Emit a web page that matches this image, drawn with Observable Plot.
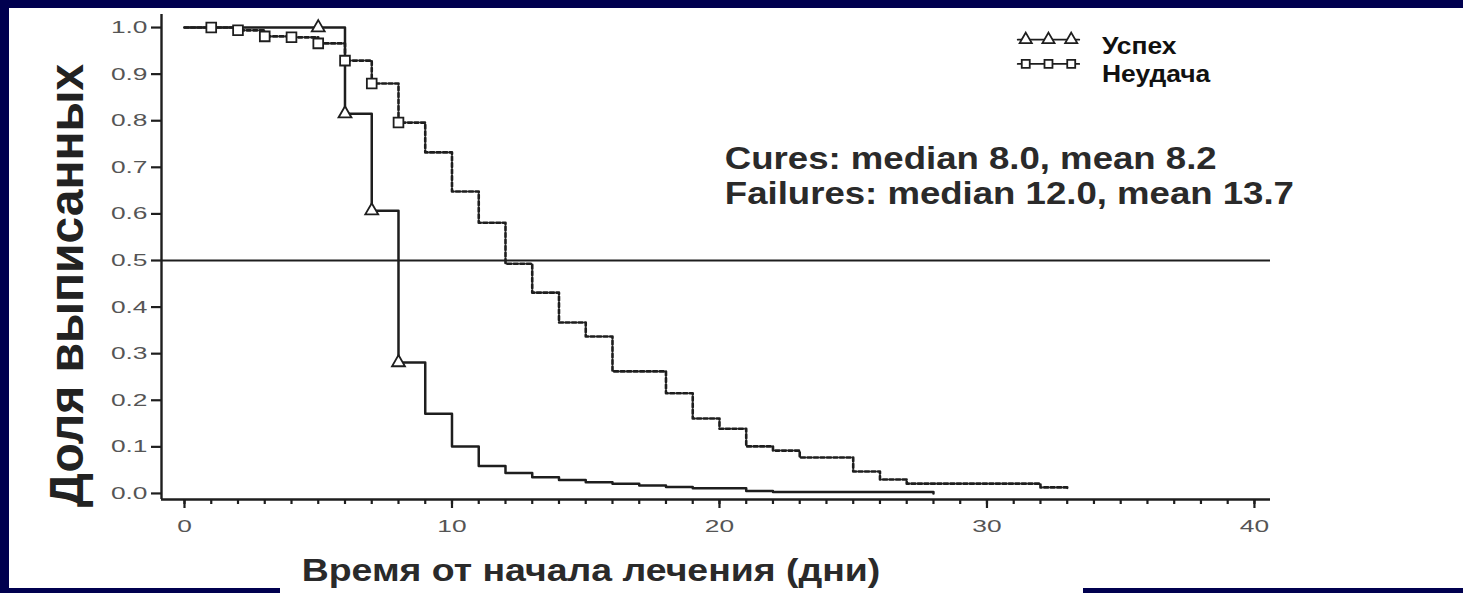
<!DOCTYPE html>
<html>
<head>
<meta charset="utf-8">
<script src="https://cdn.jsdelivr.net/npm/d3@7"></script>
<script src="https://cdn.jsdelivr.net/npm/@observablehq/plot@0.6"></script>
<style>
  html, body { margin: 0; padding: 0; }
  body { width: 1463px; height: 593px; background: #00004f; position: relative; overflow: hidden; font-family: "Liberation Sans", Arial, sans-serif; }
  #panel { position: absolute; left: 9px; top: 8px; width: 1454px; height: 580px; background: #fff; }
  #panel2 { position: absolute; left: 280px; top: 588px; width: 803px; height: 5px; background: #fff; }
  #chart { position: absolute; left: 0; top: 0; }
</style>
</head>
<body>
<div id="panel"></div>
<div id="panel2"></div>
<div id="chart"></div>
<script>
// ---- data ----
const successTimes = [0, 6, 7, 8, 9, 10, 11, 12, 13, 14, 15, 16, 17, 18, 19, 21, 22, 28];
const successSurv  = [1.0, 0.815, 0.607, 0.281, 0.171, 0.101, 0.059, 0.044, 0.035, 0.029, 0.024, 0.021, 0.017, 0.014, 0.011, 0.005, 0.003, 0.0];
const failTimes = [0, 1, 2, 3, 4, 5, 6, 7, 8, 9, 10, 11, 12, 13, 14, 15, 16, 18, 19, 20, 21, 22, 23, 25, 26, 27, 32, 33];
const failSurv  = [1.0, 1.0, 0.994, 0.981, 0.979, 0.966, 0.929, 0.880, 0.796, 0.732, 0.648, 0.581, 0.493, 0.431, 0.367, 0.337, 0.262, 0.215, 0.161, 0.139, 0.101, 0.092, 0.077, 0.047, 0.030, 0.021, 0.013, 0.008];
const successMarkTimes = [5, 6, 7, 8];
const failMarkTimes = [1, 2, 3, 4, 5, 6, 7, 8];
const referenceLevel = [0.5];
const xMajorTicks = [0, 10, 20, 30, 40];
const xMinorTicks = d3.range(0, 41);
const yTicks = [0, 0.1, 0.2, 0.3, 0.4, 0.5, 0.6, 0.7, 0.8, 0.9, 1.0];
const seriesNames = ["Успех", "Неудача"];
const annotationLines = ["Cures: median 8.0, mean 8.2", "Failures: median 12.0, mean 13.7"];
const annotationY = [0.717, 0.642];
const annotationX = 20.2;
const yTitle = "Доля выписанных";
const xTitle = "Время от начала лечения (дни)";

// ---- build tables ----
const success = successTimes.map((t, i) => ({t, s: successSurv[i]}));
const fail = failTimes.map((t, i) => ({t, s: failSurv[i]}));
const stepValue = (times, surv, t) => { let v = surv[0]; times.forEach((tt, i) => { if (tt <= t) v = surv[i]; }); return v; };
const successMarks = successMarkTimes.map(t => ({t, s: stepValue(successTimes, successSurv, t)}));
const failMarks = failMarkTimes.map(t => ({t, s: stepValue(failTimes, failSurv, t)}));
const annotations = annotationLines.map((text, i) => ({text, x: annotationX, y: annotationY[i]}));

// legend (positioned in data space, upper right)
const legendMarkX = [31.45, 32.3, 33.15];
const legendRows = [
  {name: seriesNames[0], symbol: "triangle", y: 0.974, ty: 0.958},
  {name: seriesNames[1], symbol: "square", y: 0.922, ty: 0.898}
];
const legendDots = legendRows.flatMap(r => legendMarkX.map(x => ({x, y: r.y, symbol: r.symbol})));
const legendLines = legendRows.flatMap(r => [{x: legendMarkX[0] - 0.3, y: r.y, name: r.name}, {x: legendMarkX[2] + 0.3, y: r.y, name: r.name}]);

const xDomain = [-0.86, 40.6];
const yDomain = [-0.013, 1.028];
const ink = "#1e1e1e";

const chart = Plot.plot({
  width: 1463,
  height: 593,
  marginLeft: 161,
  marginRight: 193,
  marginTop: 14,
  marginBottom: 94,
  x: {domain: xDomain},
  y: {domain: yDomain},
  style: {background: "transparent", fontFamily: "'Liberation Sans', Arial, sans-serif", overflow: "visible"},
  marks: [
    Plot.ruleY(referenceLevel, {stroke: ink, strokeWidth: 2.2}),
    Plot.line(fail, {x: "t", y: "s", curve: "step-after", stroke: ink, strokeWidth: 2.6, strokeDasharray: "4,2.5"}),
    Plot.line(success, {x: "t", y: "s", curve: "step-after", stroke: ink, strokeWidth: 2.5}),
    Plot.dot(failMarks, {x: "t", y: "s", symbol: "square", r: 5.5, fill: "white", stroke: ink, strokeWidth: 1.8}),
    Plot.dot(successMarks, {x: "t", y: "s", symbol: "triangle", r: 4.8, fill: "white", stroke: ink, strokeWidth: 1.8}),
    Plot.ruleX([xDomain[0]], {stroke: ink, strokeWidth: 2.4}),
    Plot.ruleY([yDomain[0]], {stroke: ink, strokeWidth: 2.4}),
    Plot.axisX({ticks: xMinorTicks, tickSize: 5, tickFormat: () => "", label: null, stroke: ink, strokeWidth: 2.2}),
    Plot.axisX({ticks: xMajorTicks, tickSize: 9, tickPadding: 11, label: null, stroke: ink, strokeWidth: 2.2, fontSize: 17, fill: "#555"}),
    Plot.axisY({ticks: yTicks, tickSize: 10, tickPadding: 4, tickFormat: d3.format(".1f"), label: null, stroke: ink, strokeWidth: 2.2, fontSize: 17, fill: "#555"}),
    Plot.text(annotations, {x: "x", y: "y", text: "text", textAnchor: "start", fontSize: 31, fontWeight: "bold", fill: "#2a2a2a"}),
    // legend
    Plot.line(legendLines, {x: "x", y: "y", z: "name", stroke: ink, strokeWidth: 1.8}),
    Plot.dot(legendDots, {x: "x", y: "y", symbol: "symbol", r: 4.5, fill: "white", stroke: ink, strokeWidth: 1.8}),
    Plot.text(legendRows, {x: 34.3, y: "ty", text: "name", textAnchor: "start", fontSize: 23, fontWeight: "bold", fill: "#111"}),
    // axis titles
    Plot.text([yTitle], {frameAnchor: "left", textAnchor: "middle", rotate: -90, dx: -94, dy: 28.5, fontSize: 48, fontWeight: "bold", fill: "#222"}),
    Plot.text([xTitle], {frameAnchor: "bottom", textAnchor: "middle", dx: -125, dy: 81, fontSize: 32, fontWeight: "bold", fill: "#2a2a2a"})
  ]
});
document.getElementById("chart").appendChild(chart);

// horizontal stretch of the text, as in the (stretched) original slide
function stretch(el, sx) {
  const x = +el.getAttribute("x") || 0, y = +el.getAttribute("y") || 0;
  let t = el.getAttribute("transform") || "";
  if (x || y) { el.removeAttribute("x"); el.removeAttribute("y"); t = `translate(${x},${y}) ` + t; }
  el.setAttribute("transform", `${t} scale(${sx},1)`);
}
chart.querySelectorAll('g[aria-label="x-axis tick label"] text, g[aria-label="y-axis tick label"] text').forEach(el => stretch(el, 1.55));
const textGroups = chart.querySelectorAll('g[aria-label="text"]');
textGroups[0].querySelectorAll("text").forEach(el => stretch(el, 1.18));
textGroups[1].querySelectorAll("text").forEach(el => stretch(el, 1.15));
textGroups[3].querySelectorAll("text").forEach(el => stretch(el, 1.17));
</script>
</body>
</html>
